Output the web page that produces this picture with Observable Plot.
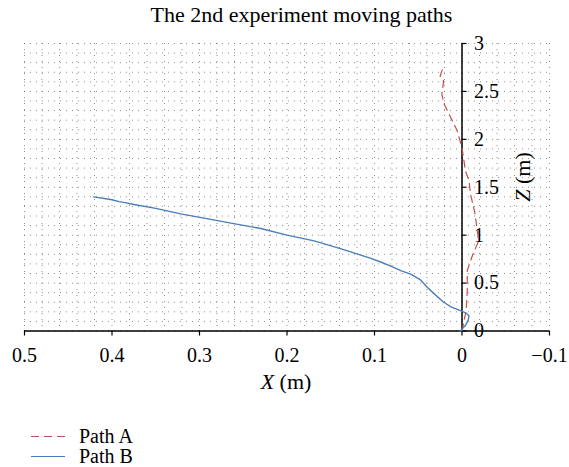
<!DOCTYPE html>
<html><head><meta charset="utf-8">
<script src="https://cdn.jsdelivr.net/npm/d3@7"></script>
<script src="https://cdn.jsdelivr.net/npm/@observablehq/plot@0.6"></script>
<style>
body{margin:0;background:#fff;font-family:"Liberation Serif",serif;color:#000;}
#title{height:30px;line-height:30px;font-size:22px;text-align:center;padding-left:34px;width:535px;}
#chart svg{display:block;}
#legend{position:relative;height:67px;}
.row{position:absolute;left:0;height:20px;font-size:20px;line-height:20px;}
.row svg{position:absolute;left:31px;top:0;}
.row span{position:absolute;left:79px;top:0;line-height:20px;height:20px;white-space:nowrap;}
</style></head><body>
<div id="title">The 2nd experiment moving paths</div>
<div id="chart"></div>
<div id="legend"></div>
<script>
// Path A (red dashed)
const pathAX = [0, -0.004, -0.005, -0.006, -0.006, -0.012, -0.019, -0.017, -0.015, -0.0097, -0.008, -0.004, 0, 0.0055, 0.013, 0.021, 0.023, 0.021, 0.025, 0.021];
const pathAZ = [0, 0.18, 0.25, 0.42, 0.63, 0.79, 0.94, 1.08, 1.22, 1.43, 1.57, 1.67, 1.91, 2.09, 2.23, 2.38, 2.47, 2.61, 2.66, 2.77];
// Path B (blue solid)
const pathBX = [0.002, -0.004, -0.007, -0.008, -0.004, 0.001, 0.012, 0.021, 0.032, 0.040, 0.047, 0.058, 0.070, 0.082, 0.093, 0.105, 0.122, 0.139, 0.169, 0.200, 0.230, 0.261, 0.290, 0.320, 0.350, 0.375, 0.385, 0.392, 0.400, 0.421];
const pathBZ = [0, 0.06, 0.11, 0.16, 0.19, 0.21, 0.25, 0.30, 0.39, 0.46, 0.53, 0.59, 0.63, 0.68, 0.72, 0.76, 0.81, 0.86, 0.94, 1.00, 1.07, 1.12, 1.17, 1.22, 1.28, 1.32, 1.34, 1.35, 1.37, 1.40];
const xTicks = [0.5, 0.4, 0.3, 0.2, 0.1, 0, -0.1];
const zTicks = [0, 0.5, 1, 1.5, 2, 2.5, 3];
const seriesNames = ["Path A", "Path B"];
const colors = ["#c0504d", "#4a7ebb"];

const A = pathAX.map((x, i) => ({x, z: pathAZ[i]}));
const B = pathBX.map((x, i) => ({x, z: pathBZ[i]}));
const xGrid = d3.range(-0.1, 0.5001, 0.02);
const zGrid = d3.range(0, 3.0001, 0.1);
const fmt = d => d < 0 ? "\u2212" + Math.abs(d) : String(d);

const plot = Plot.plot({
  width: 569, height: 370,
  marginTop: 13, marginBottom: 69.5, marginLeft: 24, marginRight: 20,
  x: {domain: [0.5, -0.1], label: null},
  y: {domain: [0, 3], label: null, axis: null},
  style: {fontFamily: "Liberation Serif", fontSize: "20px", background: "white", color: "#000"},
  marks: [
    Plot.ruleX(xGrid, {stroke: "#555", strokeOpacity: 0.65, strokeDasharray: "1,5"}),
    Plot.ruleY(zGrid, {stroke: "#555", strokeOpacity: 0.65, strokeDasharray: "1,5"}),
    Plot.ruleY([0], {stroke: "#000", strokeWidth: 1.5}),
    Plot.ruleX([0], {y1: 0, y2: 3, stroke: "#000", strokeWidth: 1.5}),
    Plot.axisX({ticks: xTicks, tickFormat: fmt, tickSize: 5, tickPadding: 12, label: null, stroke: "#000", strokeWidth: 1.2, fontSize: 20}),
    Plot.ruleY(zTicks, {x1: 0, x2: 0, insetRight: -5, stroke: "#000", strokeWidth: 1.2}),
    Plot.text(zTicks, {x: 0, y: d => d, text: d => fmt(d), dx: 12, textAnchor: "start", fontSize: 20, fill: "#000"}),
    Plot.line(A, {x: "x", y: "z", stroke: colors[0], strokeWidth: 1.2, strokeDasharray: "7,5"}),
    Plot.line(B, {x: "x", y: "z", stroke: colors[1], strokeWidth: 1.4})
  ]
});
document.getElementById("chart").appendChild(plot);

const svg = d3.select(plot);
const xl = svg.append("text").attr("x", 286).attr("y", 354).attr("text-anchor", "middle")
  .attr("dominant-baseline", "middle").attr("font-size", 22).attr("fill", "#000");
xl.append("tspan").attr("font-style", "italic").text("X");
xl.append("tspan").text(" (m)");
const zl = svg.append("text").attr("transform", "translate(525,147) rotate(-90)").attr("text-anchor", "middle")
  .attr("dominant-baseline", "middle").attr("font-size", 22).attr("fill", "#000");
zl.append("tspan").attr("font-style", "italic").text("Z");
zl.append("tspan").text(" (m)");

const legend = d3.select("#legend");
seriesNames.forEach((name, i) => {
  const row = legend.append("div").attr("class", "row").style("top", (26 + i * 20) + "px").style("width", "200px");
  const s = row.append("svg").attr("width", 36).attr("height", 20);
  s.append("line").attr("x1", 0).attr("x2", 34).attr("y1", 10.5).attr("y2", 10.5)
    .attr("stroke", colors[i]).attr("stroke-width", 1.2)
    .attr("stroke-dasharray", i === 0 ? "8,5" : null);
  row.append("span").text(name);
});
</script>
</body></html>
